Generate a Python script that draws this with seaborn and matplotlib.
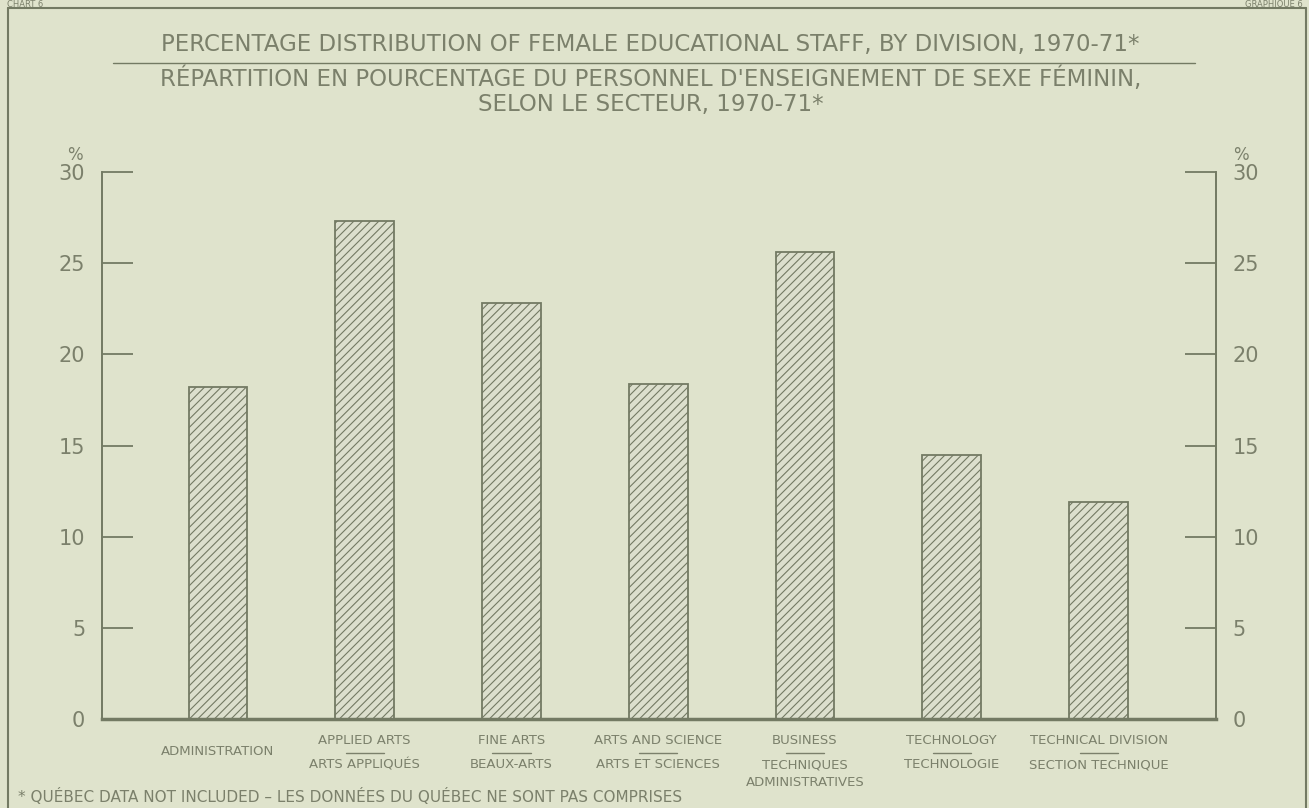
import matplotlib
matplotlib.use("Agg")
import matplotlib.pyplot as plt
import matplotlib.transforms as mtransforms
import seaborn as sns
import pandas as pd

# ---- data ----
categories_en = ["ADMINISTRATION", "APPLIED ARTS", "FINE ARTS", "ARTS AND SCIENCE",
                 "BUSINESS", "TECHNOLOGY", "TECHNICAL DIVISION"]
categories_fr = ["", "ARTS APPLIQUÉS", "BEAUX-ARTS", "ARTS ET SCIENCES",
                 "TECHNIQUES\nADMINISTRATIVES", "TECHNOLOGIE", "SECTION TECHNIQUE"]
values = [18.2, 27.3, 22.8, 18.4, 25.6, 14.5, 11.9]
yticks = [0, 5, 10, 15, 20, 25, 30]

title_en = "PERCENTAGE DISTRIBUTION OF FEMALE EDUCATIONAL STAFF, BY DIVISION, 1970-71*"
title_fr1 = "RÉPARTITION EN POURCENTAGE DU PERSONNEL D'ENSEIGNEMENT DE SEXE FÉMININ,"
title_fr2 = "SELON LE SECTEUR, 1970-71*"
footnote = "* QUÉBEC DATA NOT INCLUDED – LES DONNÉES DU QUÉBEC NE SONT PAS COMPRISES"

# ---- style ----
BG = "#dfe3cc"
INK = "#737a63"
TXT = "#7b806b"
BARFILL = "#dcdfcd"

sns.set_theme(style="white")
plt.rcParams["font.family"] = ["DejaVu Sans"]
plt.rcParams["hatch.color"] = INK
plt.rcParams["hatch.linewidth"] = 0.8

df = pd.DataFrame({"cat": categories_en, "val": values})

fig = plt.figure(figsize=(13.09, 8.08), dpi=100, facecolor=BG)
ax = fig.add_axes([102 / 1309, 1 - 719 / 808, (1216 - 102) / 1309, (719 - 172) / 808])
ax.set_facecolor(BG)

sns.barplot(data=df, x="cat", y="val", ax=ax, color=BARFILL, width=0.40,
            edgecolor=INK, linewidth=1.3, hatch="////", saturation=1)

ax.set_xlim(-0.79, 6.8)
ax.set_ylim(0, 30)
ax.set_yticks(yticks)
ax.set_yticklabels([str(t) for t in yticks])
ax.set_xlabel("")
ax.set_ylabel("")

for s in ["left", "right", "bottom"]:
    ax.spines[s].set_visible(True)
    ax.spines[s].set_color(INK)
    ax.spines[s].set_linewidth(1.4)
ax.spines["top"].set_visible(False)
ax.spines["bottom"].set_linewidth(2.5)

ax.tick_params(axis="y", which="both", direction="in", length=22, width=1.3,
               color=INK, left=True, right=True, labelleft=True, labelright=True,
               labelsize=15, labelcolor=TXT, pad=12)
ax.tick_params(axis="x", bottom=False, labelbottom=False)

# category labels
blend = mtransforms.blended_transform_factory(ax.transData, ax.transAxes)
for i, (en, fr) in enumerate(zip(categories_en, categories_fr)):
    if fr:
        ax.text(i, -0.028, en, transform=blend, ha="center", va="top",
                fontsize=9.5, color=TXT)
        ax.plot([i - 0.13, i + 0.13], [-0.063, -0.063], transform=blend,
                color=TXT, lw=1.0, clip_on=False)
        ax.text(i, -0.072, fr, transform=blend, ha="center", va="top",
                fontsize=9.5, color=TXT, linespacing=1.5)
    else:
        ax.text(i, -0.047, en, transform=blend, ha="center", va="top",
                fontsize=9.5, color=TXT)

# percent signs
fig.text(75 / 1309, 1 - 155 / 808, "%", ha="center", va="center", fontsize=12, color=TXT)
fig.text(1241 / 1309, 1 - 155 / 808, "%", ha="center", va="center", fontsize=12, color=TXT)

# titles
fig.text(0.497, 1 - 44 / 808, title_en, ha="center", va="center", fontsize=16.5, color=TXT)
fig.add_artist(plt.Line2D([113 / 1309, 1195 / 1309], [1 - 63 / 808, 1 - 63 / 808],
                          color=INK, lw=1.0))
fig.text(0.497, 1 - 79 / 808, title_fr1, ha="center", va="center", fontsize=16.5, color=TXT)
fig.text(0.497, 1 - 105 / 808, title_fr2, ha="center", va="center", fontsize=16.5, color=TXT)

# footnote
fig.text(18 / 1309, 1 - 797 / 808, footnote, ha="left", va="center", fontsize=11, color=TXT)

# outer frame
fig.add_artist(plt.Line2D([8 / 1309, 1306 / 1309], [1 - 8 / 808, 1 - 8 / 808], color=INK, lw=1.5))
fig.add_artist(plt.Line2D([8 / 1309, 8 / 1309], [1 - 8 / 808, 0], color=INK, lw=1.5))
fig.add_artist(plt.Line2D([1306 / 1309, 1306 / 1309], [1 - 8 / 808, 0], color=INK, lw=1.5))

# header texts (cut off in the reference)
fig.text(0.005, 0.9995, "CHART 6", ha="left", va="top", fontsize=6, color=TXT)
fig.text(0.995, 0.9995, "GRAPHIQUE 6", ha="right", va="top", fontsize=6, color=TXT)

fig.savefig("out.png", dpi=100, facecolor=BG)
